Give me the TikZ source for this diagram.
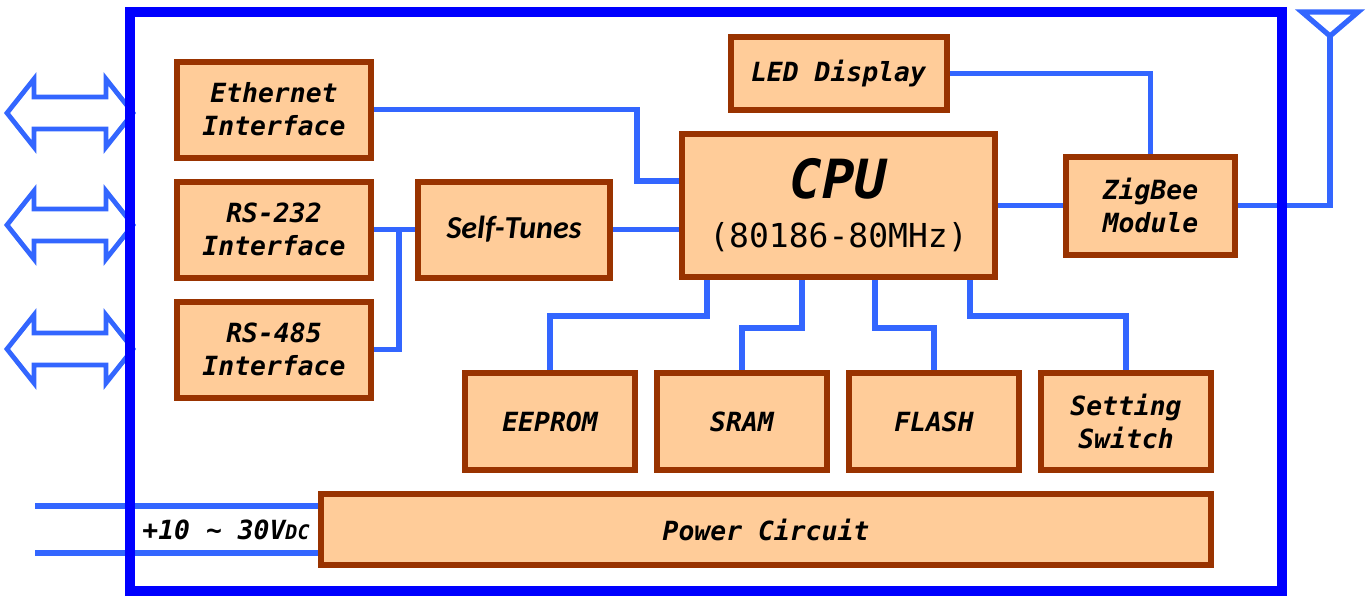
\documentclass[tikz,border=0pt]{standalone}
\usepackage{fontspec}
\setmonofont{DejaVu Sans Mono}
\newfontfamily\calfont{Carlito}
\usetikzlibrary{positioning}
\definecolor{boxfill}{HTML}{FFCC99}
\definecolor{boxline}{HTML}{993300}
\definecolor{wirecol}{HTML}{3366FF}
\definecolor{framecol}{HTML}{0000FF}
\begin{document}
\begin{tikzpicture}[x=0.5pt,y=-0.5pt]
\tikzstyle{block}=[draw=boxline,fill=boxfill,line width=3pt,inner sep=0pt,align=center,
  font=\ttfamily\bfseries\itshape\fontsize{13.2}{16.5}\selectfont]
\tikzstyle{wire}=[draw=wirecol,line width=2.6pt]
\tikzstyle{board}=[draw=framecol,line width=5pt]
\useasboundingbox (0,0) rectangle (1370,596);
% interfaces
\node [block,minimum width=97pt,minimum height=48pt] (eth) at (274,109.5) {Ethernet\\Interface};
\node [block,minimum width=97pt,minimum height=48pt,below of=eth,node distance=60pt] (rsa) {RS-232\\Interface};
\node [block,minimum width=97pt,minimum height=48pt,below of=rsa,node distance=60pt] (rsb) {RS-485\\Interface};
\node [block,minimum width=96pt,minimum height=48pt,right of=rsa,node distance=120pt,
  font=\calfont\bfseries\itshape\fontsize{16}{18}\selectfont] (tune) {Self-Tunes};
% cpu and friends
\node [block,minimum width=156.5pt,minimum height=71.5pt,font=\ttfamily\fontsize{16.5}{24.5}\selectfont]
  (cpu) at (838.5,205.5) {{\fontsize{27}{27}\selectfont\bfseries\itshape CPU}\\(80186-80MHz)};
\node [block,minimum width=108pt,minimum height=36.5pt,above of=cpu,node distance=66pt] (led) {LED Display};
\node [block,minimum width=84.5pt,minimum height=49pt,right of=cpu,node distance=156pt] (zig) {ZigBee\\Module};
% memory row
\node [block,minimum width=85pt,minimum height=48.5pt] (eep) at (550,421.5) {EEPROM};
\node [block,minimum width=85pt,minimum height=48.5pt,right of=eep,node distance=96pt] (sram) {SRAM};
\node [block,minimum width=85pt,minimum height=48.5pt,right of=sram,node distance=96pt] (flash) {FLASH};
\node [block,minimum width=85pt,minimum height=48.5pt,right of=flash,node distance=96pt] (sw) {Setting\\Switch};
\node [block,minimum width=445pt,minimum height=35.5pt] (pwr) at (766,529.5) {Power Circuit};
\node [font=\ttfamily\bfseries\itshape\fontsize{13.2}{16}\selectfont] (vin) at (226,530)
  {+10 \textasciitilde{} 30V{\fontsize{10}{10}\selectfont DC}};
\coordinate (ant) at (1330,36);
\coordinate (inA) at (35,506);
\coordinate (inB) at (35,553);
% wiring
\draw [wire] (eth.east) -- ++(263,0) |- ([yshift=12.25pt]cpu.west);
\draw [wire] (rsa.east) -- (tune.west);
\draw [wire] (rsb.east) -- ++(25,0) |- (tune.west);
\draw [wire] (tune.east) -- (cpu.west |- tune.east);
\draw [wire] (cpu.east) -- (zig.west);
\draw [wire] (led.east) -| (zig.north);
\draw [wire] (zig.east) -| (ant);
\draw [wire] (1302,12) -- (1358,12) -- (ant) -- cycle;
\draw [wire] ([xshift=-65.75pt]cpu.south) -- ++(0,36) -| (eep.north);
\draw [wire] ([xshift=-18.25pt]cpu.south) -- ++(0,48) -| (sram.north);
\draw [wire] ([xshift=18.25pt]cpu.south) -- ++(0,48) -| (flash.north);
\draw [wire] ([xshift=65.75pt]cpu.south) -- ++(0,36) -| (sw.north);
\draw [wire] (inA) -- (pwr.west |- inA);
\draw [wire] (inB) -- (pwr.west |- inB);
% ports on the left
\foreach \y in {113,225,349}
  \draw [wire,fill=white,line width=2.4pt] (7,\y) -- (34,\y-34) -- (34,\y-16) -- (106,\y-16)
    -- (106,\y-34) -- (133,\y) -- (106,\y+34) -- (106,\y+16) -- (34,\y+16) -- (34,\y+34) -- cycle;
\draw [board] (130,12) rectangle (1282,591);
\end{tikzpicture}
\end{document}
